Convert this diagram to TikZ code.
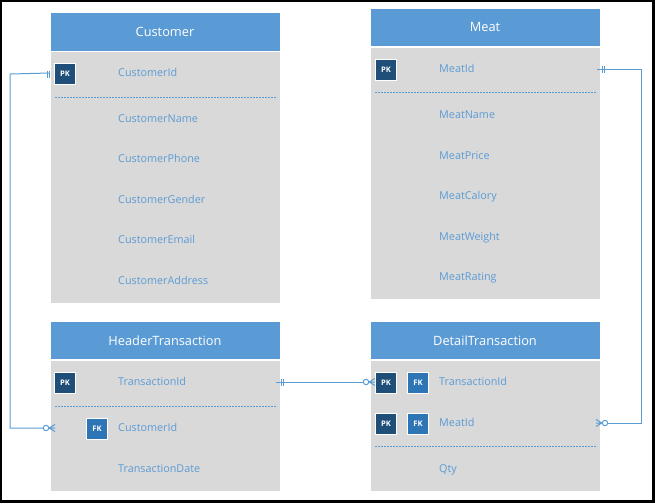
\documentclass[tikz,border=0pt]{standalone}
\usepackage{fontspec}
\setmainfont{Open Sans}
\definecolor{hdrc}{HTML}{5B9BD5}
\definecolor{bodyc}{HTML}{D9D9D9}
\definecolor{fldc}{HTML}{5B9BD5}
\definecolor{pkc}{HTML}{1F4E79}
\definecolor{fkc}{HTML}{2E75B6}
\definecolor{lnkc}{HTML}{5B9BD5}
\tikzset{
  hdrbox/.style={fill=hdrc, draw=white, line width=0.6pt, anchor=north west, minimum width=230pt, minimum height=39pt, inner sep=0pt, outer sep=0pt, text=white, font=\fontsize{12.8}{14}\selectfont},
  bodybox/.style={fill=bodyc, draw=white, line width=0.6pt, anchor=north west, minimum width=230pt, inner sep=0pt, outer sep=0pt},
  fld/.style={anchor=west, inner sep=0pt, text=fldc, text height=7.8pt, text depth=0pt, font=\fontsize{10.8}{12}\selectfont},
  keybox/.style={draw=white, line width=1pt, minimum size=21pt, inner sep=0pt, text=white, font=\bfseries\fontsize{7.6}{8}\selectfont},
  pkbox/.style={keybox, fill=pkc},
  fkbox/.style={keybox, fill=fkc},
  sepline/.style={draw=fldc, line width=1pt, dash pattern=on 2pt off 1pt},
  conn/.style={draw=lnkc, line width=1pt},
  zcirc/.style={circle, draw=lnkc, fill=white, line width=1pt, minimum size=5.4pt, inner sep=0pt}
}
\begin{document}
\begin{tikzpicture}[x=1pt,y=-1pt]
\useasboundingbox (0,0) rectangle (655,503);
\draw[line width=2.4pt] (1.2,1.2) rectangle (653.6,501.6);

% ---------- Customer ----------
\node[bodybox, minimum height=252pt] (custb) at (50,51.5) {};
\node[hdrbox] (custh) at (50,12) {Customer};
\node[pkbox] (cpk) at (65,74) {PK};
\node[fld] (cf1) at (118,73) {CustomerId};
\node[fld] (cf2) at (118,119) {CustomerName};
\node[fld] (cf3) at (118,159) {CustomerPhone};
\node[fld] (cf4) at (118,200) {CustomerGender};
\node[fld] (cf5) at (118,240) {CustomerEmail};
\node[fld] (cf6) at (118,281) {CustomerAddress};
\draw[sepline] (55,97.5) -- (277,97.5);

% ---------- Meat ----------
\node[bodybox, minimum height=252pt] (meatb) at (370,47) {};
\node[hdrbox, minimum height=38pt] (meath) at (370,8) {Meat};
\node[pkbox] (mpk) at (386,69.5) {PK};
\node[fld] (mf1) at (439,69) {MeatId};
\node[fld] (mf2) at (439,115) {MeatName};
\node[fld] (mf3) at (439,155.7) {MeatPrice};
\node[fld] (mf4) at (439,196) {MeatCalory};
\node[fld] (mf5) at (439,236.7) {MeatWeight};
\node[fld] (mf6) at (439,277) {MeatRating};
\draw[sepline] (375,92.5) -- (597,92.5);

% ---------- HeaderTransaction ----------
\node[bodybox, minimum height=131pt] (htb) at (50,360) {};
\node[hdrbox, minimum height=38.5pt] (hth) at (50,321) {HeaderTransaction};
\node[pkbox] (htpk) at (65,383) {PK};
\node[fkbox] (htfk) at (97,428.5) {FK};
\node[fld] (hf1) at (118,382) {TransactionId};
\node[fld] (hf2) at (118,428) {CustomerId};
\node[fld] (hf3) at (118,469) {TransactionDate};
\draw[sepline] (55,406.5) -- (277,406.5);

% ---------- DetailTransaction ----------
\node[bodybox, minimum height=131pt] (dtb) at (370,360) {};
\node[hdrbox, minimum height=38.5pt] (dth) at (370,321) {DetailTransaction};
\node[pkbox] (dpk1) at (386,382.5) {PK};
\node[fkbox] (dfk1) at (418,382.5) {FK};
\node[pkbox] (dpk2) at (386,423.5) {PK};
\node[fkbox] (dfk2) at (418,423.5) {FK};
\node[fld] (df1) at (439,382) {TransactionId};
\node[fld] (df2) at (439,423) {MeatId};
\node[fld] (df3) at (439,469) {Qty};
\draw[sepline] (375,446.5) -- (597,446.5);

% ---------- Connectors ----------
% Customer -> HeaderTransaction
\coordinate (cl1) at (10,74);
\node[zcirc] (zc1) at (46,428) {};
\draw[conn] (custb.west |- cf1) -- (cl1) |- (zc1.west);
\draw[conn] (47,70.5) -- (47,77.5) (49.3,70.5) -- (49.3,77.5);
\draw[conn] (zc1.east) -- (55,424.5) (zc1.east) -- (55,428) (zc1.east) -- (55,431.5);

% HeaderTransaction -> DetailTransaction
\node[zcirc] (zc2) at (366,382) {};
\draw[conn] (276,382) -- (zc2.west);
\draw[conn] (281,378.5) -- (281,385.5) (283.3,378.5) -- (283.3,385.5);
\draw[conn] (zc2.east) -- (375,378.5) (zc2.east) -- (375,382) (zc2.east) -- (375,385.5);

% Meat -> DetailTransaction
\coordinate (cr1) at (641.7,69);
\node[zcirc] (zc3) at (605,423) {};
\draw[conn] (597,69) -- (cr1) |- (zc3.east);
\draw[conn] (602.5,65.5) -- (602.5,72.5) (604.8,65.5) -- (604.8,72.5);
\draw[conn] (zc3.west) -- (596,419.5) (zc3.west) -- (596,423) (zc3.west) -- (596,426.5);
\end{tikzpicture}
\end{document}
